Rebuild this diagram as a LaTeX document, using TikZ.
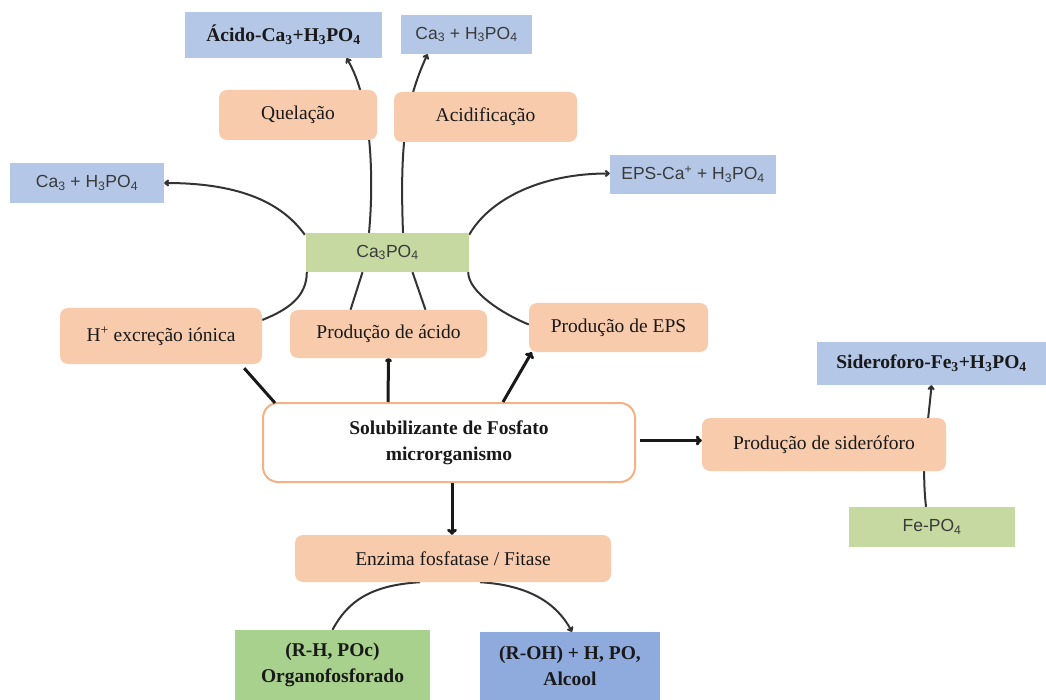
\documentclass[tikz,border=0pt]{standalone}
\usepackage{fontspec}
\setmainfont{Liberation Serif}
\newfontfamily\arialf{Liberation Sans}
\usetikzlibrary{arrows.meta,calc,backgrounds}
\definecolor{cBlue}{HTML}{B4C7E7}
\definecolor{cBlueDk}{HTML}{8FAADC}
\definecolor{cOrange}{HTML}{F8CBAD}
\definecolor{cOrangeLn}{HTML}{F4B183}
\definecolor{cGreen}{HTML}{C5D9A0}
\definecolor{cGreenDk}{HTML}{A9D18E}
\definecolor{cGray}{HTML}{3A3A3A}
\definecolor{cLine}{HTML}{333333}
\tikzset{
  box/.style={inner sep=0pt, align=center},
  bluebox/.style={box, fill=cBlue},
  greenbox/.style={box, fill=cGreen},
  orbox/.style={box, fill=cOrange, rounded corners=8pt, text=black!90, font=\fontsize{19.5}{23}\selectfont},
  sanslbl/.style={font=\arialf\fontsize{17.5}{20}\selectfont, text=cGray},
  boldlbl/.style={font=\bfseries\fontsize{19.5}{26}\selectfont, text=black!90},
  thinln/.style={draw=cLine, line width=2pt},
  thinarr/.style={thinln, -{To[length=5pt,width=7pt]}},
  thickln/.style={draw=black!90, line width=3pt},
  thickarr/.style={thickln, -{To[length=6pt,width=10pt]}},
}
\begin{document}
\begin{tikzpicture}[x=1pt,y=-1pt]
\useasboundingbox (0,0) rectangle (1046,700);
% boxes
\node[bluebox, boldlbl, minimum width=197pt, minimum height=46pt] (acidoCa) at (283.5,35) {Ácido-Ca\textsubscript{3}+H\textsubscript{3}PO\textsubscript{4}};
\node[bluebox, sanslbl, minimum width=131pt, minimum height=39pt] (caTop) at (466.5,34.5) {Ca\textsubscript{3} + H\textsubscript{3}PO\textsubscript{4}};
\node[orbox, minimum width=158pt, minimum height=50pt] (quel) at (298,115) {Quelação};
\node[orbox, minimum width=183pt, minimum height=50pt] (acidif) at (485.5,117) {Acidificação};
\node[bluebox, sanslbl, minimum width=154pt, minimum height=40pt] (caLeft) at (87,183) {Ca\textsubscript{3} + H\textsubscript{3}PO\textsubscript{4}};
\node[bluebox, sanslbl, minimum width=166pt, minimum height=39pt] (epsCa) at (693,174.5) {EPS-Ca\textsuperscript{+} + H\textsubscript{3}PO\textsubscript{4}};
\node[greenbox, sanslbl, minimum width=163pt, minimum height=39pt] (ca3po4) at (387.5,252.5) {Ca\textsubscript{3}PO\textsubscript{4}};
\node[orbox, minimum width=202pt, minimum height=56pt] (hexc) at (161,336) {H\textsuperscript{+} excreção iónica};
\node[orbox, minimum width=197pt, minimum height=48pt] (prodAc) at (388.5,334) {Produção de ácido};
\node[orbox, minimum width=179pt, minimum height=49pt] (prodEPS) at (618.5,327.5) {Produção de EPS};
\node[bluebox, boldlbl, minimum width=229pt, minimum height=43pt] (sidFe) at (931.5,363.5) {Sideroforo-Fe\textsubscript{3}+H\textsubscript{3}PO\textsubscript{4}};
\node[box, boldlbl, fill=white, draw=cOrangeLn, line width=2pt, rounded corners=15pt, minimum width=372pt, minimum height=79pt] (main) at (449,442.5) {Solubilizante de Fosfato\\microrganismo};
\node[orbox, minimum width=244pt, minimum height=53pt] (prodSid) at (824,444.5) {Produção de sideróforo};
\node[greenbox, sanslbl, minimum width=166pt, minimum height=40pt] (fePO4) at (932,527) {Fe-PO\textsubscript{4}};
\node[orbox, minimum width=316pt, minimum height=47pt] (enz) at (453,558.5) {Enzima fosfatase / Fitase};
\node[box, boldlbl, fill=cGreenDk, minimum width=195pt, minimum height=70pt] (organo) at (332.5,665) {(R-H, POc)\\Organofosforado};
\node[box, boldlbl, fill=cBlueDk, minimum width=180pt, minimum height=68pt] (alcool) at (570,666) {(R-OH) + H, PO,\\Alcool};
% connectors
\begin{scope}[on background layer]
\draw[thinarr] ($(ca3po4.north west)+(-1,2)$) .. controls +(-25,-35) and +(70,0) .. (caLeft.east);
\draw[thinln] ($(hexc.east)+(0,-16)$) .. controls +(25,-10) and +(0,25) .. ($(ca3po4.south west)+(1,0)$);
\draw[thinln] ($(prodEPS.west)+(0,-3)$) .. controls +(-25,-10) and +(0,20) .. ($(ca3po4.south east)+(-1,0)$);
\draw[thinarr] ($(ca3po4.north east)+(0,2)$) .. controls +(20,-35) and +(-70,0) .. ($(epsCa.west)+(0,-1)$);
\draw[thinarr] ($(ca3po4.north)+(-18.5,0)$) .. controls (374,180) and (372,100) .. ($(acidoCa.south)+(63,0)$);
\draw[thinarr] ($(ca3po4.north)+(15.5,0)$) .. controls (400,150) and (404,105) .. ($(caTop.south)+(-39,0)$);
\draw[thinln] ($(prodAc.north)+(-38,0)$) -- ($(ca3po4.south)+(-25,0)$);
\draw[thinln] ($(prodAc.north)+(37,0)$) -- ($(ca3po4.south)+(25,0)$);
\draw[thinarr] ($(fePO4.north)+(-6,0)$) .. controls +(-5,-45) and +(-4,45) .. ($(sidFe.south)+(0,0)$);
\draw[thinln] ($(enz.south)+(-33,0)$) .. controls +(-50,3) and +(15,-28) .. ($(organo.north)+(0,0)$);
\draw[thinarr] ($(enz.south)+(27,0)$) .. controls +(50,3) and +(-15,-28) .. ($(alcool.north)+(2,0)$);
\end{scope}
\draw[thickln] ($(main.north west)+(13,1)$) -- ($(hexc.south east)+(-18,4)$);
\draw[thickln, -{To[length=4pt,width=7pt]}] ($(main.north)+(-61,0)$) -- (prodAc.south);
\draw[thickarr] ($(main.north)+(54,0)$) -- ($(prodEPS.south west)+(3,0)$);
\draw[thickarr] (main.east) ++(4,-2) -- ($(prodSid.west)+(0,-4)$);
\draw[thickarr] ($(main.south)+(3,0)$) -- ($(enz.north)+(-1,0)$);
\end{tikzpicture}
\end{document}
